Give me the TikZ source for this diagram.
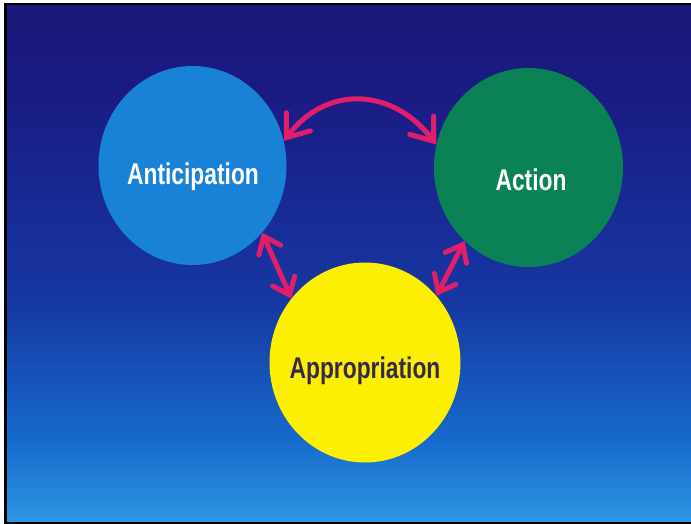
\documentclass[tikz,border=0pt]{standalone}
\usepackage{fontspec}
\setmainfont{Liberation Sans}
\usetikzlibrary{shapes.geometric,arrows.meta}
\definecolor{bgtop}{RGB}{26,24,120}
\definecolor{bgA}{RGB}{26,28,132}
\definecolor{bgB}{RGB}{22,55,162}
\definecolor{bgC}{RGB}{22,105,202}
\definecolor{bgbot}{RGB}{45,150,228}
\definecolor{antblue}{RGB}{25,130,215}
\definecolor{actgreen}{RGB}{10,130,85}
\definecolor{appyellow}{RGB}{252,240,0}
\definecolor{apptext}{RGB}{55,40,80}
\definecolor{arrowpink}{RGB}{225,30,105}
\pgfdeclareverticalshading{bgshade}{100bp}{color(0bp)=(bgbot); color(25bp)=(bgbot); color(33bp)=(bgC); color(46.5bp)=(bgB); color(66bp)=(bgA); color(75bp)=(bgtop); color(100bp)=(bgtop)}
\tikzset{
  blob/.style={ellipse, inner sep=0pt, minimum width=188pt, minimum height=199pt, draw=none},
  lbl/.style={anchor=base, inner sep=0pt, font=\fontsize{30}{30}\selectfont\bfseries},
  link/.style={draw=arrowpink, line width=5pt, line cap=round},
  bigtip/.style={{Straight Barb[length=20pt,width=30pt,line width=5pt,line cap=round]}-{Straight Barb[length=20pt,width=30pt,line width=5pt,line cap=round]}},
  smalltip/.style={{Straight Barb[length=15pt,width=24pt,line width=5pt,line cap=round]}-{Straight Barb[length=15pt,width=24pt,line width=5pt,line cap=round]}}
}
\begin{document}
\begin{tikzpicture}[x=1pt,y=-1pt]
\useasboundingbox (0,0) rectangle (691,524);
\fill[white] (0,0) rectangle (691,524);
\fill[black] (4,3) rectangle (691,524);
\shade[shading=bgshade] (7,6) rectangle (691,521);
% circles
\node[blob, fill=antblue] (ant) at (192.5,165.5) {};
\node[blob, fill=actgreen, minimum width=189pt] (act) at (528.5,167.5) {};
\node[blob, fill=appyellow, minimum width=191pt, minimum height=200pt] (app) at (365,362.5) {};
% labels
\node[lbl, text=white] (antl) at (193,184.5) {\scalebox{0.76}[1]{Anticipation}};
\node[lbl, text=white] (actl) at (531,190.5) {\scalebox{0.76}[1]{Action}};
\node[lbl, text=apptext] (appl) at (365,378.5) {\scalebox{0.76}[1]{Appropriation}};
% connectors
\draw[link, bigtip] (ant.15) .. controls (327,84) and (393,88) .. (act.166);
\draw[link, smalltip] (ant.-44) -- (app.139);
\draw[link, smalltip] (act.-131) -- (app.43);
\end{tikzpicture}
\end{document}
